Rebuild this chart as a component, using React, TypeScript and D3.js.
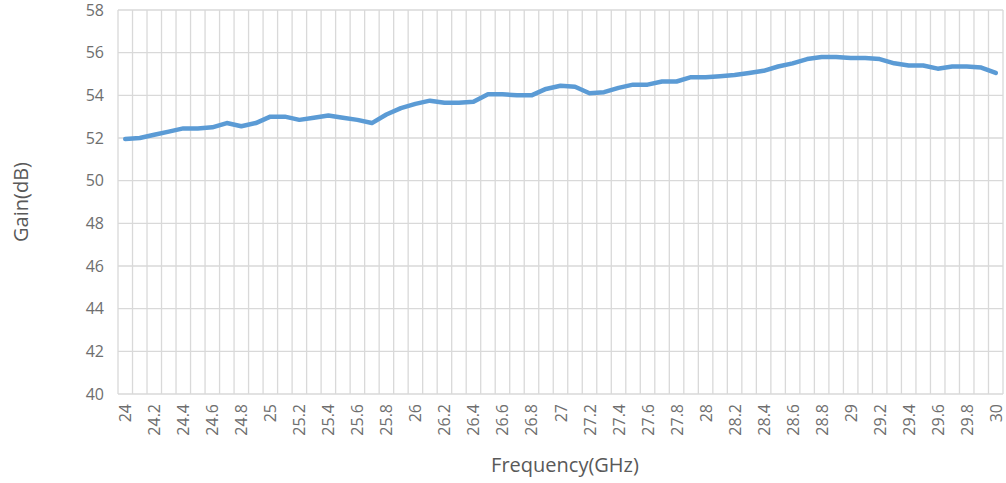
import React, { useEffect } from "react";
import * as d3 from "d3";

const frequencies: number[] = d3.range(0, 61).map((i) => +(24 + i * 0.1).toFixed(1));
const gain: number[] = [
  51.95, 52.0, 52.15, 52.3, 52.45, 52.45, 52.5, 52.7, 52.55, 52.7,
  53.0, 53.0, 52.85, 52.95, 53.05, 52.95, 52.85, 52.7, 53.1, 53.4,
  53.6, 53.75, 53.65, 53.65, 53.7, 54.05, 54.05, 54.0, 54.0, 54.3,
  54.45, 54.4, 54.1, 54.15, 54.35, 54.5, 54.5, 54.65, 54.65, 54.85,
  54.85, 54.9, 54.95, 55.05, 55.15, 55.35, 55.5, 55.7, 55.8, 55.8,
  55.75, 55.75, 55.7, 55.5, 55.4, 55.4, 55.25, 55.35, 55.35, 55.3,
  55.05,
];
const yTicks: number[] = [40, 42, 44, 46, 48, 50, 52, 54, 56, 58];
const xLabelEvery = 2;

const W = 1006;
const H = 483;
const left = 118;
const right = 1003;
const top = 10;
const bottom = 394;

export default function App() {
  useEffect(() => {
    document.body.style.margin = "0";
  }, []);

  const x = d3
    .scaleBand<number>()
    .domain(d3.range(frequencies.length))
    .range([left, right])
    .paddingInner(0)
    .paddingOuter(0);
  const y = d3.scaleLinear().domain([40, 58]).range([bottom, top]);

  const cx = (i: number) => (x(i) as number) + x.bandwidth() / 2;
  const line = d3
    .line<number>()
    .x((_, i) => cx(i))
    .y((d) => y(d));

  const boundaries = d3.range(frequencies.length + 1).map((i) => left + i * x.bandwidth());
  const textColor = "#6e6e6e";
  const titleColor = "#595959";
  const grid = "#d9d9d9";
  const font = "'Open Sans', 'Noto Sans', sans-serif";

  return (
    <svg width={W} height={H} style={{ display: "block", background: "#fff" }}>
      {yTicks.map((t) => (
        <line key={"h" + t} x1={left} x2={right} y1={y(t)} y2={y(t)} stroke={grid} strokeWidth={1.3} />
      ))}
      {boundaries.map((bx, i) => (
        <line key={"v" + i} x1={bx} x2={bx} y1={top} y2={bottom} stroke={grid} strokeWidth={1.3} />
      ))}
      {yTicks.map((t) => (
        <text
          key={"yl" + t}
          x={104}
          y={y(t)}
          dy="0.35em"
          textAnchor="end"
          fill={textColor}
          fontSize={16}
          fontFamily={font}
        >
          {t}
        </text>
      ))}
      {frequencies.map((f, i) =>
        i % xLabelEvery === 0 ? (
          <text
            key={"xl" + i}
            transform={`translate(${cx(i) + 6},${bottom + 10}) rotate(-90)`}
            textAnchor="end"
            fill={textColor}
            fontSize={16}
            fontFamily={font}
          >
            {String(f)}
          </text>
        ) : null
      )}
      <path
        d={line(gain) as string}
        fill="none"
        stroke="#5B9BD5"
        strokeWidth={4.5}
        strokeLinejoin="round"
        strokeLinecap="round"
      />
      <text
        transform={`translate(28,${(top + bottom) / 2}) rotate(-90)`}
        textAnchor="middle"
        fill={titleColor}
        fontSize={20}
        fontFamily={font}
      >
        Gain(dB)
      </text>
      <text x={565} y={472} textAnchor="middle" fill={titleColor} fontSize={20} fontFamily={font}>
        Frequency(GHz)
      </text>
    </svg>
  );
}
